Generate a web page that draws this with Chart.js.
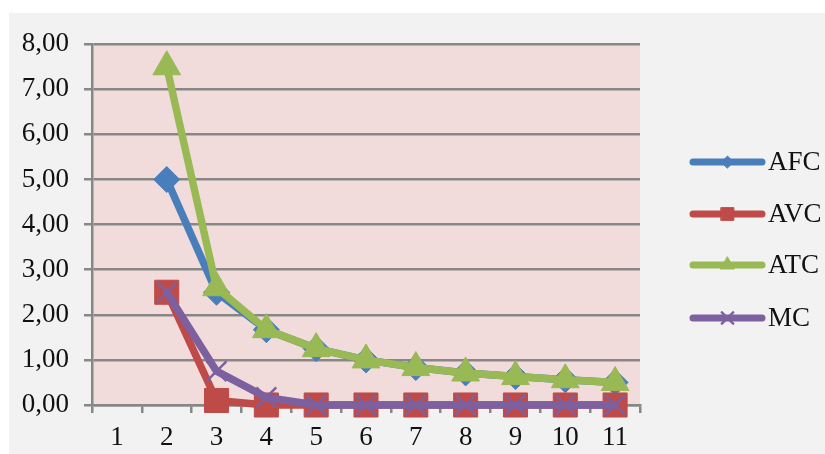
<!DOCTYPE html>
<html>
<head>
<meta charset="utf-8">
<script src="https://cdn.jsdelivr.net/npm/chart.js@4/dist/chart.umd.min.js"></script>
<style>
  html, body { margin: 0; padding: 0; background: #ffffff; }
  #box { position: absolute; left: 9px; top: 13px; width: 816px; height: 441px; background: #f2f2f2; }
</style>
</head>
<body>
<div id="box"><canvas id="costChart" width="816" height="441"></canvas></div>
<script>
// カテゴリと系列の値
const labels = ['1', '2', '3', '4', '5', '6', '7', '8', '9', '10', '11'];
const afc = [null, 5.00, 2.50, 1.67, 1.25, 1.00, 0.83, 0.71, 0.63, 0.56, 0.50];
const avc = [null, 2.50, 0.10, 0.00, 0.00, 0.00, 0.00, 0.00, 0.00, 0.00, 0.00];
const atc = [null, 7.50, 2.60, 1.67, 1.25, 1.00, 0.83, 0.71, 0.63, 0.56, 0.50];
const mc  = [null, 2.50, 0.75, 0.17, 0.00, 0.00, 0.00, 0.00, 0.00, 0.00, 0.00];

const serif = "'Liberation Serif', 'Times New Roman', serif";
const gridColor = '#878787';

// プロット領域の背景
const plotBg = {
    id: 'plotBg',
    beforeDraw(chart) {
        const a = chart.chartArea;
        const c = chart.ctx;
        c.save();
        c.fillStyle = '#f2dcdb';
        c.fillRect(a.left, a.top, a.right - a.left, a.bottom - a.top);
        c.restore();
    }
};

// 凡例（線＋マーカー）
const lineLegend = {
    id: 'lineLegend',
    afterDraw(chart) {
        const c = chart.ctx;
        const x0 = 684, x1 = 753, tx = 759;
        const ys = [149, 201, 252, 305];
        c.save();
        chart.data.datasets.forEach((ds, i) => {
            const y = ys[i];
            c.strokeStyle = ds.borderColor;
            c.lineWidth = 7;
            c.lineCap = 'round';
            c.beginPath();
            c.moveTo(x0, y);
            c.lineTo(x1, y);
            c.stroke();
            c.fillStyle = ds.pointBackgroundColor;
            c.strokeStyle = ds.pointBorderColor;
            c.lineWidth = ds.legendBorder;
            Chart.helpers.drawPoint(c, {
                pointStyle: ds.pointStyle,
                radius: ds.legendRadius,
                rotation: 0,
                borderWidth: ds.legendBorder
            }, (x0 + x1) / 2, y);
            c.fillStyle = '#111111';
            c.font = '27px ' + serif;
            c.textBaseline = 'middle';
            c.fillText(ds.label, tx, y + 1);
        });
        c.restore();
    }
};

const ctx = document.getElementById('costChart').getContext('2d');

new Chart(ctx, {
    type: 'line',
    data: {
        labels: labels,
        datasets: [{
            label: 'AFC',
            data: afc,
            borderColor: '#4a7ebb',
            pointBackgroundColor: '#4a7ebb',
            pointBorderColor: '#4a7ebb',
            pointStyle: 'rectRot',
            pointRadius: 13,
            pointBorderWidth: 1,
            legendRadius: 6,
            legendBorder: 1,
            clip: false,
            order: 4
        }, {
            label: 'AVC',
            data: avc,
            borderColor: '#be4b48',
            pointBackgroundColor: '#be4b48',
            pointBorderColor: '#be4b48',
            pointStyle: 'rect',
            pointRadius: 17,
            pointBorderWidth: 1,
            legendRadius: 9,
            legendBorder: 1,
            clip: false,
            order: 3
        }, {
            label: 'ATC',
            data: atc,
            borderColor: '#98b954',
            pointBackgroundColor: '#98b954',
            pointBorderColor: '#98b954',
            pointStyle: 'triangle',
            pointRadius: 16,
            pointBorderWidth: 1,
            legendRadius: 8,
            legendBorder: 1,
            clip: false,
            order: 2
        }, {
            label: 'MC',
            data: mc,
            borderColor: '#7d60a0',
            pointBackgroundColor: '#7d60a0',
            pointBorderColor: '#7d60a0',
            pointStyle: 'crossRot',
            pointRadius: 14,
            pointBorderWidth: 2.5,
            legendRadius: 8,
            legendBorder: 2.5,
            clip: false,
            order: 1
        }]
    },
    options: {
        responsive: false,
        animation: false,
        spanGaps: false,
        elements: {
            line: { borderWidth: 7.5, tension: 0, borderJoinStyle: 'round', borderCapStyle: 'round' }
        },
        layout: { padding: { left: 0, top: 30, right: 185, bottom: 0 } },
        plugins: {
            legend: { display: false },
            tooltip: { enabled: false }
        },
        scales: {
            x: {
                offset: true,
                grid: {
                    offset: true,
                    drawOnChartArea: false,
                    color: gridColor,
                    lineWidth: 2.5,
                    tickLength: 8
                },
                border: { color: gridColor, width: 2.5 },
                ticks: {
                    color: '#111111',
                    font: { family: serif, size: 27 },
                    padding: 9,
                    maxRotation: 0
                },
                afterFit(scale) { scale.height = 49; }
            },
            y: {
                min: 0,
                max: 8,
                grid: {
                    color: gridColor,
                    lineWidth: 2.5,
                    tickLength: 8
                },
                border: { color: gridColor, width: 2.5 },
                ticks: {
                    stepSize: 1,
                    color: '#111111',
                    font: { family: serif, size: 27 },
                    padding: 15,
                    callback: v => v.toFixed(2).replace('.', ',')
                },
                afterFit(scale) { scale.width = 83; }
            }
        }
    },
    plugins: [plotBg, lineLegend]
});
</script>
</body>
</html>
